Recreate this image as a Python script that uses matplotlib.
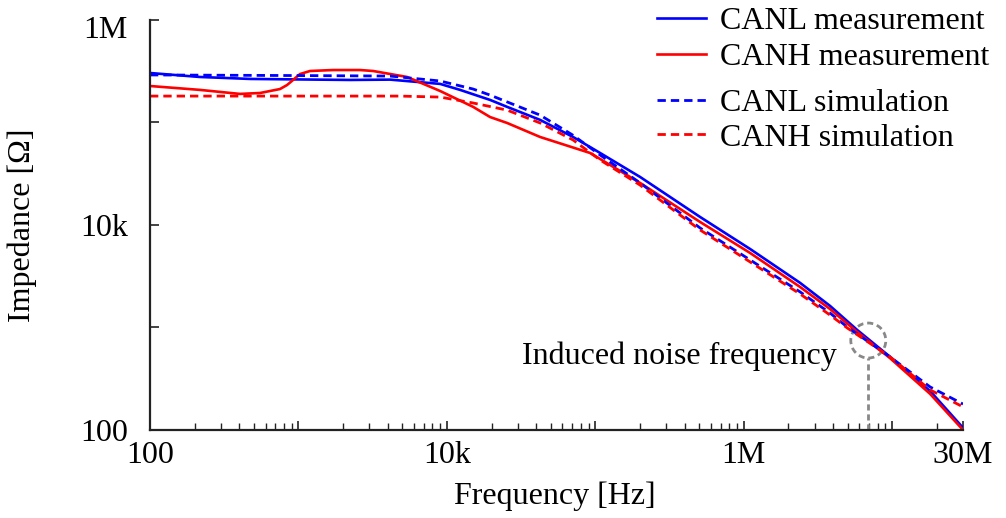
import matplotlib
matplotlib.use("Agg")
import matplotlib.pyplot as plt
from matplotlib.lines import Line2D
from matplotlib.patches import Circle
from matplotlib.transforms import ScaledTranslation
from matplotlib.ticker import FixedLocator, NullFormatter, LogLocator

plt.rcParams['font.family'] = ['Liberation Serif', 'DejaVu Serif']

# CANL measurement (Hz, Ohm)
canl_meas_f = [100, 217, 472, 2230, 4140, 9000, 12270, 19550, 25470, 42480, 70840,
               107700, 200400, 508000, 1.104e6, 2.4e6, 3.82e6, 5.81e6, 9.7e6, 1.8e7, 3.0e7]
canl_meas_z = [304e3, 278e3, 266e3, 260e3, 262e3, 238e3, 208e3, 166e3, 142e3, 106e3, 72.2e3,
               50.4e3, 29.4e3, 11.97e3, 5.83e3, 2.72e3, 1.62e3, 946, 515, 240, 105]

# CANH measurement
canh_meas_f = [100, 217, 404, 551, 751, 838, 920, 1025, 1197, 1711, 2600, 3184, 5395,
               9000, 15030, 19550, 25470, 42480, 92250, 200400, 508000, 1.104e6, 2.4e6,
               3.82e6, 5.81e6, 9.7e6, 1.8e7, 3.0e7]
canh_meas_z = [227e3, 208e3, 190e3, 194e3, 212e3, 232e3, 260e3, 297e3, 318e3, 325e3, 325e3,
               318e3, 278e3, 203e3, 142e3, 113e3, 98.9e3, 72.2e3, 50.4e3, 25.7e3, 10.7e3,
               5.33e3, 2.48e3, 1.51e3, 904, 500, 225, 100]

# CANL simulation
canl_sim_f = [100, 1000, 4140, 9000, 15030, 19550, 42480, 70840, 107700, 200400, 508000,
              1.104e6, 2.4e6, 3.82e6, 4.98e6, 9.7e6, 1.8e7, 3.0e7]
canl_sim_z = [291e3, 287e3, 284e3, 254e3, 212e3, 185e3, 118e3, 75e3, 48.2e3, 25.7e3, 9.35e3,
              4.56e3, 2.22e3, 1.38e3, 1.01e3, 515, 263, 179]

# CANH simulation
canh_sim_f = [100, 1000, 4840, 9000, 15030, 25470, 42480, 70840, 107700, 200400, 508000,
              1.104e6, 2.4e6, 3.82e6, 4.98e6, 9.7e6, 1.8e7, 3.0e7]
canh_sim_z = [181e3, 181e3, 181e3, 177e3, 155e3, 132e3, 98.9e3, 67.5e3, 43.1e3, 24.5e3, 8.94e3,
              4.36e3, 2.12e3, 1.32e3, 989, 515, 246, 168]

noise_freq = 6.9e6
noise_z = 746

x_ticks = [100, 1e3, 1e4, 1e5, 1e6, 1e7, 3e7]
x_labels = ['100', '', '10k', '', '1M', '', '30M']
y_ticks = [100, 1e3, 1e4, 1e5, 1e6]
y_labels = ['100', '', '10k', '', '1M']

BLUE = '#0000ff'
RED = '#ff0000'
GREY = '#888888'
DASH = (0, (3.0, 1.8))
FS = 23

fig = plt.figure(figsize=(10.06, 5.18), dpi=100)
ax = fig.add_axes([0.1491, 0.1699, 0.8082, 0.7915])

ax.plot(canl_meas_f, canl_meas_z, color=BLUE, lw=1.9)
ax.plot(canh_meas_f, canh_meas_z, color=RED, lw=1.9)
ax.plot(canl_sim_f, canl_sim_z, color=BLUE, lw=2.0, ls=DASH)
ax.plot(canh_sim_f, canh_sim_z, color=RED, lw=2.0, ls=DASH)

ax.set_xscale('log')
ax.set_yscale('log')
ax.set_xlim(100, 3e7)
ax.set_ylim(100, 1e6)

ax.xaxis.set_major_locator(FixedLocator(x_ticks))
ax.set_xticklabels(x_labels)
ax.xaxis.set_minor_locator(LogLocator(base=10, subs=range(2, 10)))
ax.xaxis.set_minor_formatter(NullFormatter())
ax.yaxis.set_major_locator(FixedLocator(y_ticks))
ax.set_yticklabels(y_labels)
ax.yaxis.set_minor_locator(FixedLocator([]))

for s in ['top', 'right']:
    ax.spines[s].set_visible(False)
for s in ['left', 'bottom']:
    ax.spines[s].set_linewidth(1.6)
    ax.spines[s].set_color('#222222')

ax.tick_params(axis='both', which='major', direction='in', length=6.5, width=1.2,
               color='#222222', labelsize=FS)
ax.tick_params(axis='x', which='minor', direction='in', length=5, width=1.0, color='#222222')
ax.tick_params(axis='x', which='major', pad=8)
ax.tick_params(axis='y', which='major', pad=16)

# the top label sits a little below its tick in the original
top_lbl = ax.get_yticklabels()[-1]
top_lbl.set_transform(top_lbl.get_transform() + ScaledTranslation(0, -0.07, fig.dpi_scale_trans))

ax.set_xlabel('Frequency [Hz]', fontsize=FS)
ax.set_ylabel('Impedance [Ω]', fontsize=FS)
ax.xaxis.set_label_coords(0.498, -0.125)
ax.yaxis.set_label_coords(-0.139, 0.5)

# induced noise marker
circ_tr = fig.dpi_scale_trans + ScaledTranslation(noise_freq, noise_z, ax.transData)
ax.add_patch(Circle((0, 0), 0.175, transform=circ_tr, fill=False, ec=GREY,
                    lw=2.0, ls=(0, (2.2, 1.4)), clip_on=False))
ax.plot([noise_freq, noise_freq], [0, 0.175], color=GREY, lw=2.0,
        ls=(0, (2.2, 1.4)), transform=ax.get_xaxis_transform(), clip_on=False)
ax.text(0.845, 0.18, 'Induced noise frequency', transform=ax.transAxes,
        ha='right', va='center', fontsize=FS)

# legend in two groups
h_meas = [Line2D([], [], color=BLUE, lw=1.9), Line2D([], [], color=RED, lw=1.9)]
h_sim = [Line2D([], [], color=BLUE, lw=2.0, ls=DASH), Line2D([], [], color=RED, lw=2.0, ls=DASH)]
leg_kw = dict(loc='upper left', frameon=False, fontsize=FS, handlelength=1.53,
              handletextpad=0.44, borderpad=0, borderaxespad=0)
fig.legend(h_meas, ['CANL measurement', 'CANH measurement'],
           bbox_to_anchor=(0.653, 0.9865), labelspacing=0.21, **leg_kw)
fig.legend(h_sim, ['CANL simulation', 'CANH simulation'],
           bbox_to_anchor=(0.653, 0.828), labelspacing=0.15, **leg_kw)

fig.savefig('out.png', dpi=100)
